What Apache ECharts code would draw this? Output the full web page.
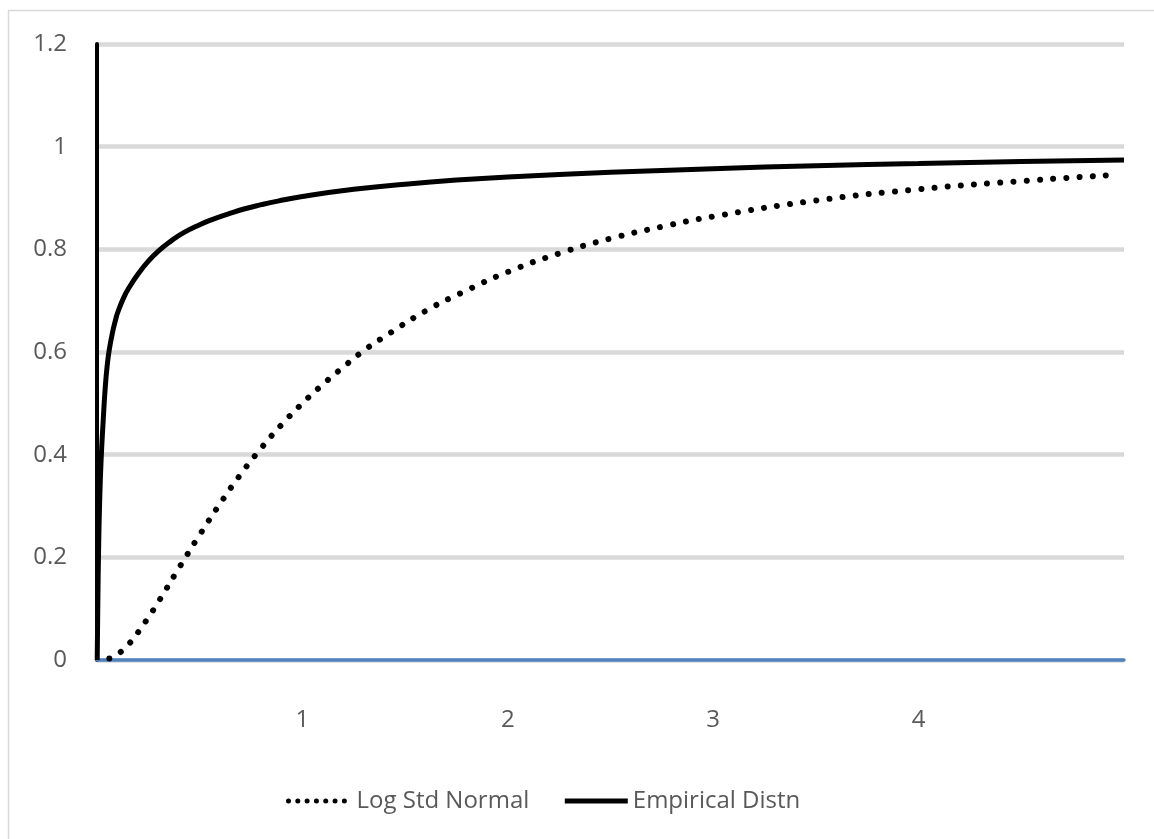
<!DOCTYPE html>
<html>
<head>
<meta charset="utf-8">
<script src="https://cdn.jsdelivr.net/npm/echarts@6/dist/echarts.min.js"></script>
<style>
html,body{margin:0;padding:0;background:#fff;}
#chart{width:1154px;height:839px;}
</style>
</head>
<body>
<div id="chart"></div>
<script>
// Series names
const seriesNames = ['Log Std Normal', 'Empirical Distn'];

// Log Std Normal (dotted) — x values and y values
const logX = [0.06, 0.1, 0.15, 0.2, 0.25, 0.3, 0.4, 0.5, 0.6, 0.7, 0.8, 0.9, 1.0, 1.1, 1.2, 1.3, 1.4, 1.6, 1.8, 2.0, 2.25, 2.5, 2.75, 3.0, 3.5, 4.0, 4.5, 4.95];
const logY = [0.003, 0.011, 0.029, 0.054, 0.083, 0.114, 0.180, 0.244, 0.305, 0.362, 0.413, 0.459, 0.500, 0.537, 0.571, 0.603, 0.630, 0.680, 0.720, 0.756, 0.792, 0.821, 0.844, 0.864, 0.895, 0.917, 0.933, 0.945];

// Empirical Distn (solid)
const empX = [0.001, 0.004, 0.008, 0.013, 0.02, 0.03, 0.04, 0.05, 0.06, 0.075, 0.09, 0.1, 0.13, 0.16, 0.2, 0.25, 0.3, 0.36, 0.42, 0.5, 0.56, 0.64, 0.72, 0.8, 0.88, 1.0, 1.25, 1.5, 1.75, 2.0, 2.5, 3.0, 3.5, 4.0, 4.5, 5.0];
const empY = [0.0, 0.11, 0.22, 0.31, 0.39, 0.465, 0.53, 0.575, 0.605, 0.637, 0.662, 0.676, 0.706, 0.728, 0.752, 0.777, 0.797, 0.816, 0.832, 0.848, 0.858, 0.869, 0.879, 0.887, 0.894, 0.903, 0.917, 0.927, 0.935, 0.941, 0.950, 0.957, 0.963, 0.967, 0.971, 0.974];

// Axis ticks
const xTicks = [1, 2, 3, 4];
const yTicks = [0, 0.2, 0.4, 0.6, 0.8, 1, 1.2];

const zip = (xs, ys) => xs.map((x, i) => [x, ys[i]]);

const chart = echarts.init(document.getElementById('chart'));
const font = '"Open Sans", "Liberation Sans", sans-serif';
chart.setOption({
  animation: false,
  backgroundColor: '#ffffff',
  graphic: [{
    type: 'rect',
    shape: { x: 8.5, y: 10.5, width: 1160, height: 840 },
    style: { fill: 'none', stroke: '#d9d9d9', lineWidth: 1.5 },
    silent: true
  }],
  grid: { left: 97, right: 30, top: 44, bottom: 179, containLabel: false },
  legend: {
    left: 281,
    top: 784,
    itemGap: 33,
    itemWidth: 63,
    itemHeight: 14,
    textStyle: { fontFamily: font, fontSize: 24, color: '#595959' },
    itemStyle: { color: 'transparent', borderWidth: 0, opacity: 0 },
    data: [
      { name: seriesNames[0], itemStyle: { opacity: 0 }, lineStyle: { type: [0.01, 9.3], cap: 'round', width: 5, color: '#000' } },
      { name: seriesNames[1], itemStyle: { opacity: 0 }, lineStyle: { type: 'solid', width: 5, color: '#000' } }
    ]
  },
  xAxis: {
    type: 'value',
    min: 0,
    max: 5,
    interval: 1,
    axisLine: { show: true, onZero: false, lineStyle: { color: '#4f81bd', width: 3.5 } },
    axisTick: { show: false },
    splitLine: { show: false },
    axisLabel: {
      margin: 48,
      fontFamily: font, fontSize: 24, color: '#595959',
      formatter: v => (xTicks.indexOf(v) >= 0 ? String(v) : '')
    }
  },
  yAxis: {
    type: 'value',
    min: 0,
    max: 1.2,
    interval: 0.2,
    axisLine: { show: true, onZero: false, lineStyle: { color: '#000', width: 4 } },
    axisTick: { show: false },
    splitLine: { show: true, lineStyle: { color: '#d9d9d9', width: 4.5 } },
    axisLabel: {
      margin: 30,
      fontFamily: font, fontSize: 24, color: '#595959',
      formatter: v => {
        const t = yTicks.find(k => Math.abs(k - v) < 1e-9);
        return t === undefined ? '' : String(t);
      }
    }
  },
  series: [
    {
      name: seriesNames[0],
      type: 'line',
      data: zip(logX, logY),
      showSymbol: false,
      symbol: 'none',
      smooth: 0.5,
      lineStyle: { color: '#000', width: 6, type: [0.01, 13.2], cap: 'round' },
      itemStyle: { color: '#000' },
      z: 3
    },
    {
      name: seriesNames[1],
      type: 'line',
      data: zip(empX, empY),
      showSymbol: false,
      symbol: 'none',
      smooth: 0.5,
      lineStyle: { color: '#000', width: 5 },
      itemStyle: { color: '#000' },
      z: 4
    }
  ]
});
</script>
</body>
</html>
